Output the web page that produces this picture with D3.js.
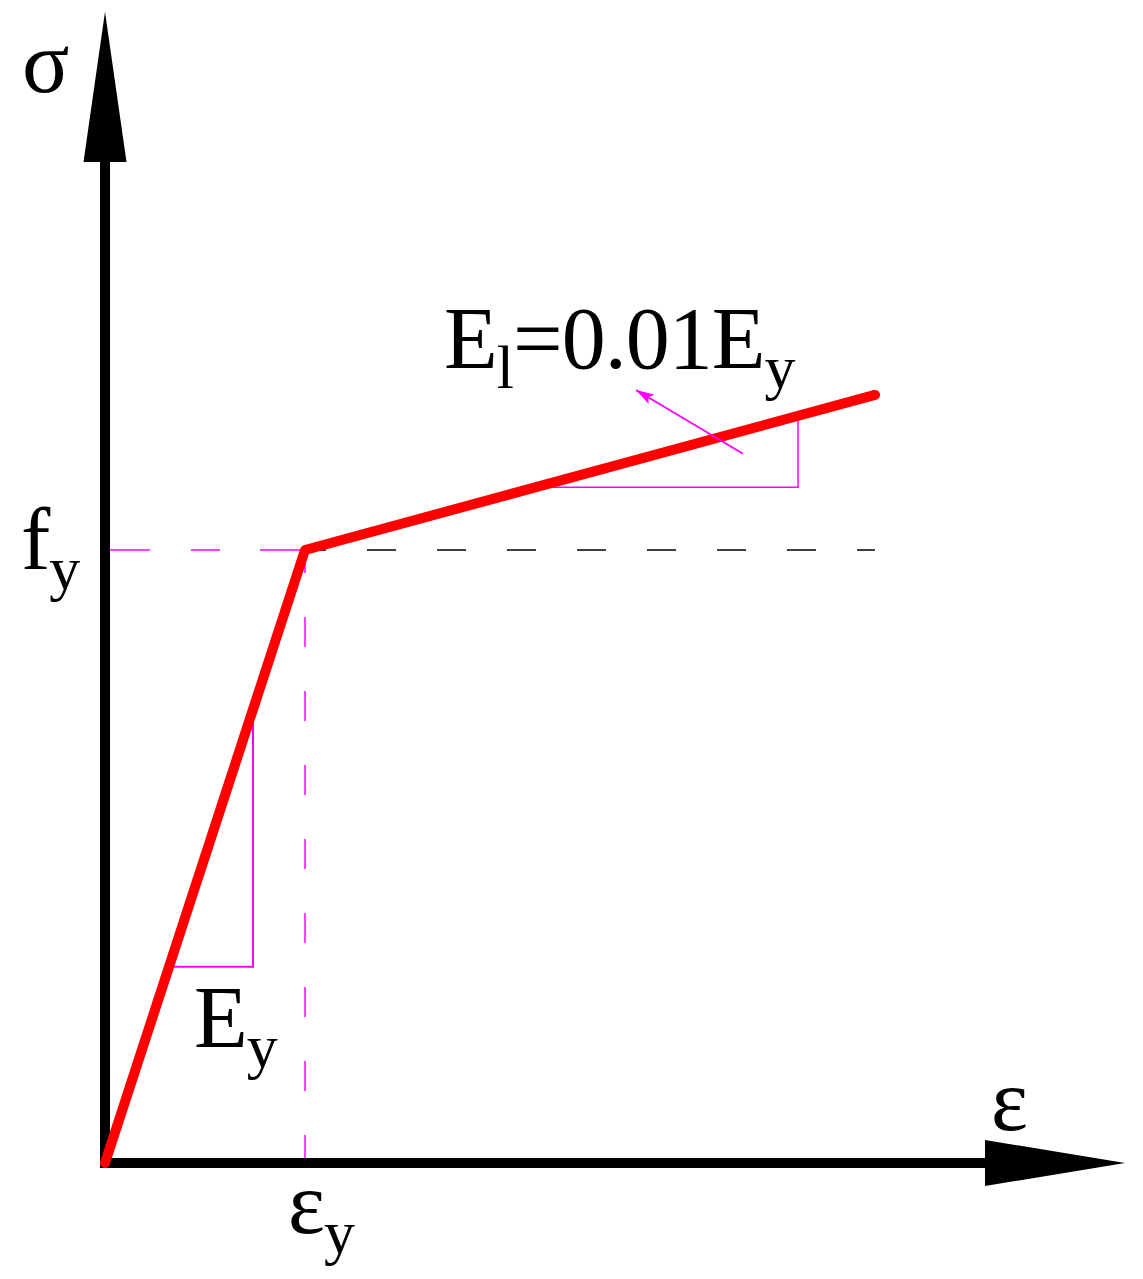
<!DOCTYPE html>
<html>
<head>
<meta charset="utf-8">
<script src="https://cdn.jsdelivr.net/npm/d3@7"></script>
<style>
  body { margin: 0; background: #fff; }
  text { font-family: "Liberation Serif", "Times New Roman", serif; fill: #000; }
</style>
</head>
<body>
<div id="chart"></div>
<script>
// bilinear steel model, strain in units of eps_y, stress in units of f_y
var strain = [0, 1, 3.85];
var stress = [0, 1, 1.253];

// slope triangles (strain, stress)
var elasticTri = [[0.32, 0.32], [0.74, 0.32], [0.74, 0.742]];
var hardenTri = [[2.155, 1.1025], [3.465, 1.1025], [3.465, 1.219]];
var pointer = [[3.19, 1.157], [2.655, 1.261]];

var axisEnd = { x: 5.1, y: 1.878 };
var headLen = { x: 0.7, y: 0.245 };

var labels = {
  sigma: "σ", eps: "ε", fy: ["f", "y"], epsY: ["ε", "y"],
  Ey: ["E", "y"], E1: ["E", "l", "=0.01E", "y"]
};

var width = 1143, height = 1279;

var x = d3.scaleLinear().domain([0, 1]).range([105, 305]);
var y = d3.scaleLinear().domain([0, 1]).range([1163, 550]);

var svg = d3.select("#chart").append("svg")
  .attr("width", width)
  .attr("height", height);

svg.append("defs").append("marker")
  .attr("id", "tip")
  .attr("viewBox", "0 0 10 10")
  .attr("preserveAspectRatio", "none")
  .attr("refX", 10).attr("refY", 5)
  .attr("markerWidth", 18).attr("markerHeight", 11)
  .attr("markerUnits", "userSpaceOnUse")
  .attr("orient", "auto")
  .append("path")
  .attr("d", "M0,0L10,5L0,10L2,5Z")
  .attr("fill", "#ff00ff");

var line = d3.line().x(function (d) { return x(d[0]); }).y(function (d) { return y(d[1]); });

// reference lines at yield
svg.append("line")
  .attr("x1", x(strain[1])).attr("x2", x(0))
  .attr("y1", y(stress[1])).attr("y2", y(stress[1]))
  .attr("stroke", "#ff00ff").attr("stroke-width", 1.5)
  .attr("stroke-dasharray", "45,40,29,41");

svg.append("line")
  .attr("x1", x(strain[1])).attr("x2", x(strain[2]))
  .attr("y1", y(stress[1])).attr("y2", y(stress[1]))
  .attr("stroke", "#000").attr("stroke-width", 1.5)
  .attr("stroke-dasharray", "29,41")
  .attr("stroke-dashoffset", 8);

svg.append("line")
  .attr("x1", x(strain[1])).attr("x2", x(strain[1]))
  .attr("y1", y(stress[1])).attr("y2", y(0))
  .attr("stroke", "#ff00ff").attr("stroke-width", 1.5)
  .attr("stroke-dasharray", "30,44")
  .attr("stroke-dashoffset", 7);

// axes
svg.append("line")
  .attr("x1", x(0)).attr("x2", x(0))
  .attr("y1", y(0) + 5).attr("y2", y(axisEnd.y - headLen.y))
  .attr("stroke", "#000").attr("stroke-width", 10);

svg.append("line")
  .attr("x1", x(0) - 5).attr("x2", x(axisEnd.x - headLen.x))
  .attr("y1", y(0)).attr("y2", y(0))
  .attr("stroke", "#000").attr("stroke-width", 10);

svg.append("path")
  .attr("d", "M" + x(0) + "," + y(axisEnd.y) +
    "L" + (x(0) + 21.5) + "," + y(axisEnd.y - headLen.y) +
    "L" + (x(0) - 21.5) + "," + y(axisEnd.y - headLen.y) + "Z")
  .attr("fill", "#000");

svg.append("path")
  .attr("d", "M" + x(axisEnd.x) + "," + y(0) +
    "L" + x(axisEnd.x - headLen.x) + "," + (y(0) - 23) +
    "L" + x(axisEnd.x - headLen.x) + "," + (y(0) + 23) + "Z")
  .attr("fill", "#000");

// slope triangles
svg.append("path")
  .attr("d", line(elasticTri))
  .attr("fill", "none").attr("stroke", "#ff00ff").attr("stroke-width", 2);

svg.append("path")
  .attr("d", line(hardenTri))
  .attr("fill", "none").attr("stroke", "#ff00ff").attr("stroke-width", 1.5);

// stress-strain curve
svg.append("path")
  .attr("d", line(d3.zip(strain, stress)))
  .attr("fill", "none")
  .attr("stroke", "#ff0000")
  .attr("stroke-width", 10)
  .attr("stroke-linecap", "round")
  .attr("stroke-linejoin", "round");

// pointer to E1 label
svg.append("path")
  .attr("d", line(pointer))
  .attr("stroke", "#ff00ff").attr("stroke-width", 1.8)
  .attr("marker-end", "url(#tip)");

// labels
function label(px, py, parts) {
  var t = svg.append("text").attr("x", px).attr("y", py)
    .attr("font-size", 88).attr("letter-spacing", -1);
  parts.forEach(function (p, i) {
    var sub = i % 2 === 1;
    t.append("tspan")
      .attr("font-size", sub ? 62 : 88)
      .attr("dy", i === 0 ? 0 : (sub ? 20 : -20))
      .text(p);
  });
  return t;
}

label(22, 92, [labels.sigma]);
label(991, 1130, [labels.eps]);
label(x(0) - 84, y(stress[1]) + 19, labels.fy);
label(x(strain[1]) - 17, y(0) + 70, labels.epsY);
label(194, 1047, labels.Ey);
label(444, 368, labels.E1);
</script>
</body>
</html>
